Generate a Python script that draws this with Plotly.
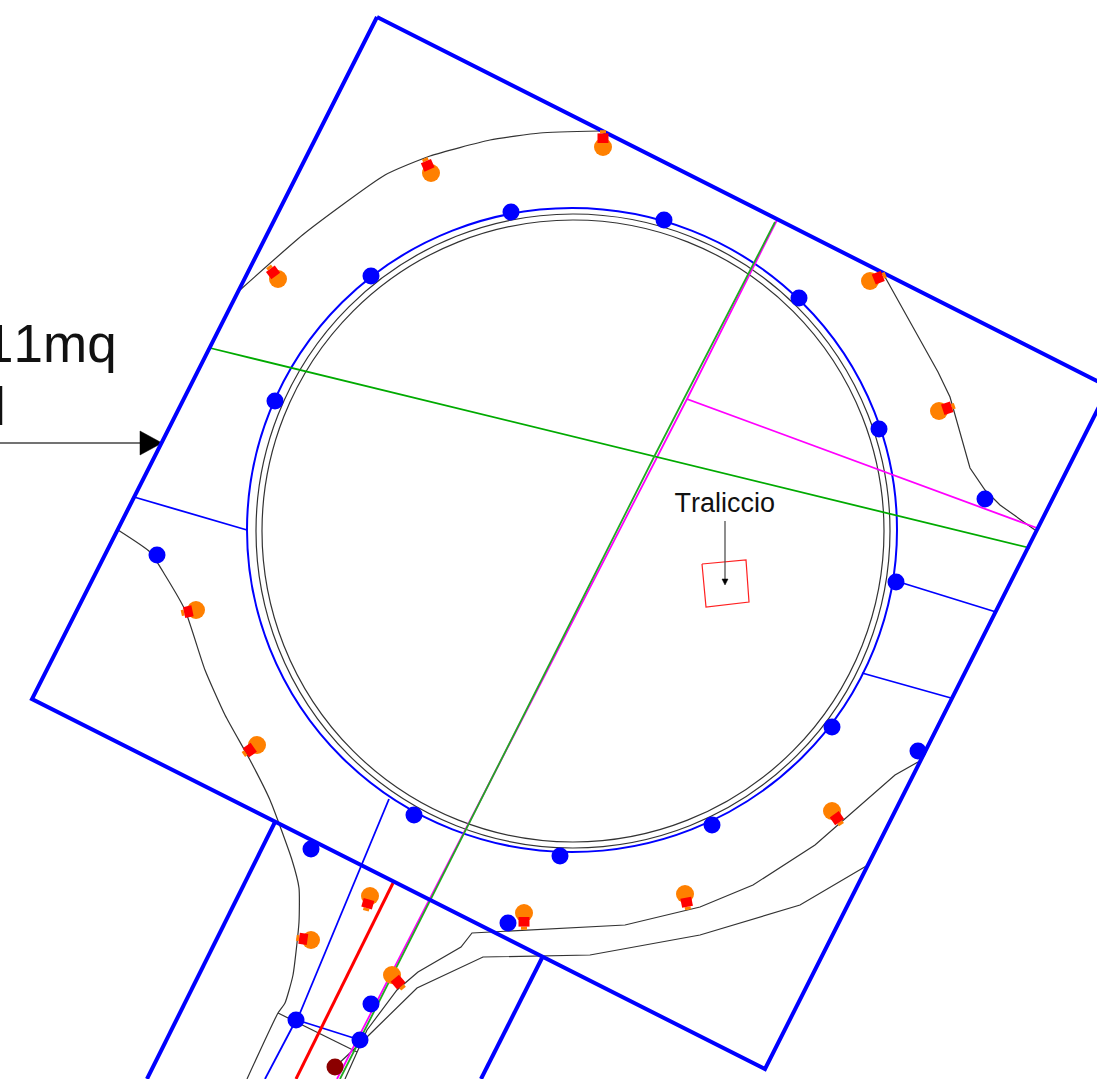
import plotly.graph_objects as go

W, H = 1097, 1079

# Drawing geometry (page pixels)
plot_outline_x = [377, 1109, 765, 32, 377]
plot_outline_y = [17, 387, 1069, 699, 17]
road_left_x = [275, 147]
road_left_y = [822, 1079]
road_right_x = [542, 481]
road_right_y = [958, 1079]

rings_cx = [572, 573, 573]
rings_cy = [530, 531, 531]
rings_rx = [325, 317, 311]
rings_ry = [322, 317, 311]
rings_color = ["#0000ff", "#333333", "#333333"]
rings_width = [2, 1.2, 1.2]

curve_top_x = [240, 305, 385, 430, 490, 540, 600]
curve_top_y = [290, 233, 175, 156, 140, 133, 131]
curve_right_x = [885, 938, 950, 970, 985, 1000, 1035]
curve_right_y = [277, 372, 397, 468, 490, 505, 530]
curve_left_x = [118, 150, 165, 185, 205, 225, 250, 270, 292, 299, 299, 293, 285, 278, 247]
curve_left_y = [530, 552, 575, 610, 670, 715, 760, 800, 860, 888, 922, 975, 1003, 1013, 1079]
curve_cross_x = [278, 357]
curve_cross_y = [1013, 1052]
curve_inner_x = [918, 895, 815, 753, 700, 625, 472, 461, 418, 397, 367, 358, 345]
curve_inner_y = [762, 775, 845, 885, 907, 925, 933, 947, 972, 990, 1030, 1050, 1079]
curve_outer_x = [868, 800, 700, 590, 483, 417, 367, 335]
curve_outer_y = [865, 905, 935, 955, 957, 988, 1037, 1067]

green_a_x = [210, 1030]
green_a_y = [348, 548]
green_b_x = [775, 655, 340]
green_b_y = [222, 455, 1079]
magenta_x = [1037, 687, 777, 687, 337]
magenta_y = [528, 399, 220, 399, 1079]

blue_thin = [
    ([134, 247], [497, 530]),
    ([896, 996], [581, 612]),
    ([862, 951], [673, 698]),
    ([389, 300], [799, 1013]),
    ([295, 265], [1022, 1079]),
    ([297, 360], [1020, 1040]),
]
red_x = [393, 296]
red_y = [883, 1079]
pylon_x = [702, 746, 749, 706, 702]
pylon_y = [564, 560, 602, 607, 564]

arrow_line_x = [0, 142]
arrow_line_y = [443, 443]
arrow_head_x = [140, 162, 140, 140]
arrow_head_y = [431, 443, 455, 431]
small_line_x = [725, 725]
small_line_y = [521, 582]
small_head_x = [722, 728, 725, 722]
small_head_y = [579, 579, 585, 579]

dots_x = [511, 664, 371, 799, 275, 879, 985, 896, 157, 832, 918, 712, 560, 414, 311, 508, 371, 296, 360]
dots_y = [212, 220, 276, 298, 401, 429, 499, 582, 555, 727, 751, 825, 856, 815, 849, 923, 1004, 1020, 1040]
dark_x = [335]
dark_y = [1067]

lamp_x = [603, 431, 278, 870, 939, 196, 257, 311, 370, 524, 392, 685, 832]
lamp_y = [147, 173, 279, 281, 411, 610, 745, 940, 896, 913, 975, 894, 811]
lamp_tip_x = [603, 425, 269, 885, 954, 182, 244, 297, 366, 524, 403, 688, 841]
lamp_tip_y = [131, 159, 267, 275, 406, 613, 754, 938, 910, 929, 988, 909, 824]

BLACK = "#333333"
fig = go.Figure()


def line(x, y, color, width, smooth=False):
    ln = dict(color=color, width=width)
    if smooth:
        ln.update(shape="spline", smoothing=0.5)
    fig.add_trace(go.Scatter(x=x, y=y, mode="lines", hoverinfo="skip", line=ln))


def fill(x, y, color):
    fig.add_trace(go.Scatter(x=x, y=y, mode="lines", fill="toself", fillcolor=color,
                             hoverinfo="skip", line=dict(color=color, width=0.5)))


for cx, cy, rx, ry, c, w in zip(rings_cx, rings_cy, rings_rx, rings_ry, rings_color, rings_width):
    fig.add_shape(type="circle", xref="x", yref="y", x0=cx - rx, x1=cx + rx, y0=cy - ry, y1=cy + ry,
                  line=dict(color=c, width=w), layer="below")

line(curve_top_x, curve_top_y, BLACK, 1.2, smooth=True)
line(curve_right_x, curve_right_y, BLACK, 1.2)
line(curve_left_x, curve_left_y, BLACK, 1.2, smooth=True)
line(curve_cross_x, curve_cross_y, BLACK, 1.2)
line(curve_inner_x, curve_inner_y, BLACK, 1.2)
line(curve_outer_x, curve_outer_y, BLACK, 1.2)

line(magenta_x, magenta_y, "#ff00ff", 1.8)
line(green_a_x, green_a_y, "#00aa00", 1.8)
line(green_b_x, green_b_y, "#22aa22", 1.8)
for bx, by in blue_thin:
    line(bx, by, "#0000ff", 1.8)
line(red_x, red_y, "#ff0000", 3)
line(pylon_x, pylon_y, "#ff2020", 1.2)
line(small_line_x, small_line_y, "#444444", 1.2)
fill(small_head_x, small_head_y, "#000000")
line(arrow_line_x, arrow_line_y, "#444444", 1.5)
fill(arrow_head_x, arrow_head_y, "#000000")

line(plot_outline_x, plot_outline_y, "#0000ff", 4)
line(road_left_x, road_left_y, "#0000ff", 4)
line(road_right_x, road_right_y, "#0000ff", 4)

# Lamps: orange globe, red holder, orange cap, laid along globe -> tip
fig.add_trace(go.Scatter(x=lamp_x, y=lamp_y, mode="markers", hoverinfo="skip",
                         marker=dict(color="#ff8000", size=18, line=dict(width=0))))
body_x, body_y, cap_x, cap_y = [], [], [], []
for x0, y0, x1, y1 in zip(lamp_x, lamp_y, lamp_tip_x, lamp_tip_y):
    dx, dy = x1 - x0, y1 - y0
    body_x += [x0 + 0.25 * dx, x0 + 0.85 * dx, None]
    body_y += [y0 + 0.25 * dy, y0 + 0.85 * dy, None]
    cap_x += [x0 + 0.85 * dx, x0 + 1.05 * dx, None]
    cap_y += [y0 + 0.85 * dy, y0 + 1.05 * dy, None]
line(cap_x, cap_y, "#ff8000", 6)
line(body_x, body_y, "#ff0000", 11)

fig.add_trace(go.Scatter(x=dots_x, y=dots_y, mode="markers", hoverinfo="skip",
                         marker=dict(color="#0000ff", size=17, line=dict(width=0))))
fig.add_trace(go.Scatter(x=dark_x, y=dark_y, mode="markers", hoverinfo="skip",
                         marker=dict(color="#8b0000", size=17, line=dict(width=0))))

FONT = "Liberation Sans"
fig.add_annotation(x=117, y=343, xref="x", yref="y", text="11mq", showarrow=False, xanchor="right",
                   yanchor="middle", font=dict(family=FONT, size=53, color="#111111"))
fig.add_annotation(x=8, y=406, xref="x", yref="y", text="l", showarrow=False, xanchor="right",
                   yanchor="middle", font=dict(family=FONT, size=53, color="#111111"))
fig.add_annotation(x=725, y=503, xref="x", yref="y", text="Traliccio", showarrow=False, xanchor="center",
                   yanchor="middle", font=dict(family=FONT, size=27, color="#111111"))

fig.update_layout(width=W, height=H, margin=dict(l=0, r=0, t=0, b=0), showlegend=False,
                  paper_bgcolor="white", plot_bgcolor="white",
                  xaxis=dict(range=[0, W], visible=False, fixedrange=True),
                  yaxis=dict(range=[H, 0], visible=False, fixedrange=True))
fig.write_html("out.html", config={"displayModeBar": False},
               post_script="document.body.style.margin='0';document.body.style.overflow='hidden';"
                           "document.querySelectorAll('.annotation text').forEach(t=>t.style.fontKerning='none');")
